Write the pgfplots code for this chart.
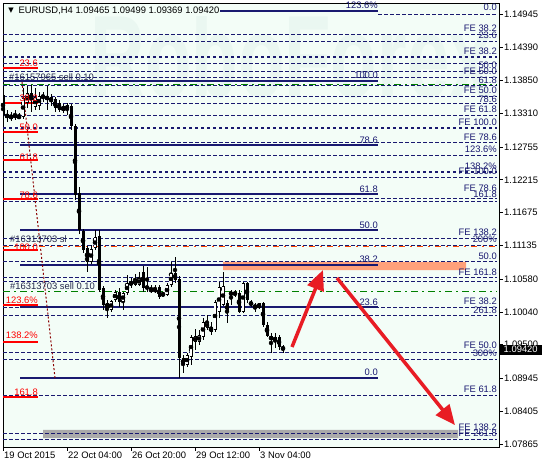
\documentclass[border=0pt]{standalone}
\usepackage{fontspec}
\setmainfont{Liberation Sans}
\newfontfamily\dejavu{DejaVu Sans}
\usepackage{pgfplots}
\pgfplotsset{compat=1.18}
\usepackage{pgfplotstable}
\usetikzlibrary{arrows.meta}

\definecolor{bgc}{RGB}{243,253,247}
\definecolor{fibnavy}{RGB}{25,25,112}
\definecolor{ordgreen}{RGB}{0,128,0}
\definecolor{slred}{RGB}{255,69,0}
\definecolor{arrred}{RGB}{232,28,36}
\definecolor{salmon}{RGB}{255,160,122}
\definecolor{band}{RGB}{170,170,170}
\definecolor{wm}{RGB}{234,247,241}
\definecolor{ordtext}{RGB}{35,40,75}
\definecolor{darkred}{RGB}{139,0,0}

% EURUSD H4 candles: bar index, open, high, low, close
\pgfplotstableread{
i o h l c
0 1.13611 1.13644 1.13118 1.13282
1 1.13233 1.13365 1.13167 1.13299
2 1.13216 1.13332 1.13184 1.13282
3 1.13233 1.13365 1.13200 1.13299
4 1.13233 1.13315 1.13216 1.13266
5 1.13249 1.13727 1.13216 1.13562
6 1.13480 1.13760 1.13398 1.13644
7 1.13644 1.13776 1.13332 1.13529
8 1.13414 1.13727 1.13365 1.13578
9 1.13430 1.13661 1.13365 1.13595
10 1.13562 1.13661 1.13496 1.13611
11 1.13595 1.13760 1.13365 1.13529
12 1.13578 1.13628 1.13430 1.13496
13 1.13545 1.13578 1.13332 1.13398
14 1.13480 1.13529 1.13332 1.13365
15 1.13348 1.13463 1.13315 1.13430
16 1.13365 1.13480 1.13282 1.13447
17 1.13430 1.13463 1.13035 1.13101
18 1.13101 1.13134 1.11883 1.11965
19 1.11998 1.12097 1.11323 1.11389
20 1.11372 1.11405 1.11010 1.11059
21 1.11092 1.11125 1.10697 1.10862
22 1.10862 1.11142 1.10829 1.11076
23 1.11092 1.11389 1.11059 1.11273
24 1.11290 1.11389 1.10368 1.10401
25 1.10434 1.10467 1.10072 1.10154
26 1.10105 1.10237 1.09940 1.10187
27 1.10072 1.10237 1.10039 1.10220
28 1.10237 1.10401 1.10204 1.10368
29 1.10368 1.10434 1.10121 1.10204
30 1.10204 1.10368 1.10072 1.10352
31 1.10352 1.10648 1.10319 1.10517
32 1.10517 1.10599 1.10434 1.10500
33 1.10484 1.10665 1.10467 1.10582
34 1.10484 1.10697 1.10467 1.10599
35 1.10697 1.10796 1.10368 1.10434
36 1.10434 1.10780 1.10368 1.10451
37 1.10434 1.10484 1.10352 1.10368
38 1.10368 1.10484 1.10352 1.10434
39 1.10451 1.10484 1.10253 1.10286
40 1.10335 1.10368 1.10302 1.10319
41 1.10319 1.10517 1.10302 1.10484
42 1.10484 1.10862 1.10451 1.10681
43 1.10681 1.10945 1.10517 1.10566
44 1.10582 1.10632 1.08952 1.09282
45 1.09282 1.09331 1.09035 1.09167
46 1.09167 1.09364 1.09134 1.09331
47 1.09298 1.09660 1.09167 1.09627
48 1.09545 1.09759 1.09413 1.09644
49 1.09545 1.09743 1.09496 1.09660
50 1.09627 1.09940 1.09578 1.09874
51 1.09776 1.09990 1.09743 1.09874
52 1.09792 1.09874 1.09660 1.09710
53 1.09743 1.10237 1.09710 1.10204
54 1.10039 1.10533 1.09940 1.10451
55 1.10154 1.10697 1.10138 1.10467
56 1.10187 1.10237 1.09858 1.10039
57 1.10352 1.10401 1.10154 1.10335
58 1.10335 1.10401 1.10286 1.10352
59 1.10352 1.10401 1.10023 1.10039
60 1.10039 1.10533 1.10023 1.10517
61 1.10517 1.10533 1.10187 1.10237
62 1.10204 1.10237 1.10121 1.10154
63 1.10154 1.10187 1.10039 1.10105
64 1.10105 1.10187 1.10088 1.10187
65 1.10187 1.10204 1.09792 1.09825
66 1.09825 1.09874 1.09627 1.09644
67 1.09644 1.09693 1.09364 1.09578
68 1.09562 1.09693 1.09446 1.09627
69 1.09627 1.09660 1.09413 1.09465
70 1.09465 1.09499 1.09369 1.09420
}\candles

\tikzset{
  dsh/.style={fibnavy, line width=0.8bp, dash pattern=on 3.5bp off 2.5bp},
  dotb/.style={fibnavy, line width=2bp, dash pattern=on 2.5bp off 3.5bp},
  sol/.style={fibnavy, line width=2bp},
  rlbl/.style={anchor=east, inner sep=0pt, text=fibnavy},
  redlbl/.style={anchor=east, inner sep=0pt, text=red},
  ordlbl/.style={anchor=west, inner sep=0pt, text=ordtext},
}

\begin{document}
\begin{tikzpicture}[font=\fontsize{9.4bp}{11bp}\selectfont]
\begin{axis}[
  scale only axis, width=496bp, height=444bp,
  at={(3bp,18bp)}, anchor=south west,
  xmin=0, xmax=124, ymin=1.07816, ymax=1.15126,
  axis background/.style={fill=bgc},
  axis line style={black, line width=0.8bp},
  tick style={black, line width=0.8bp},
  tick align=outside, major tick length=3.5bp,
  xtick pos=left, ytick pos=right, yticklabel pos=right,
  xtick={0,16,32,48,64},
  xticklabels={19 Oct 2015, 22 Oct 04:00, 26 Oct 20:00, 29 Oct 12:00, 3 Nov 04:00},
  xticklabel style={anchor=north west, inner sep=1bp},
  ytick={1.07865,1.08405,1.08945,1.09500,1.10040,1.10580,1.11135,1.11675,1.12215,1.12755,1.13310,1.13850,1.14390,1.14945},
  yticklabels={1.07865,1.08405,1.08945,1.09500,1.10040,1.10580,1.11135,1.11675,1.12215,1.12755,1.13310,1.13850,1.14390,1.14945},
  yticklabel style={anchor=west, inner sep=1.5bp},
  tick label style={font=\fontsize{9.4bp}{11bp}\selectfont},
  clip mode=individual,
]
% faint watermark
\node[anchor=base west, inner sep=0pt, text=wm, font=\fontsize{117bp}{117bp}\selectfont\bfseries] at (axis cs:21.75,1.13578) {\scalebox{0.65}[1]{RoboForex}};

% target zones
\addplot[fill=salmon, draw=none, forget plot] coordinates {(55,1.10862) (115.75,1.10862) (115.75,1.10730) (55,1.10730) (55,1.10862)};
\addplot[fill=band, draw=none, forget plot] coordinates {(10,1.08096) (113.75,1.08096) (113.75,1.07964) (10,1.07964) (10,1.08096)};

% dashed fibo / expansion levels
\addplot[dsh, forget plot] coordinates {(93.75,1.14945) (123.5,1.14945)};
\pgfplotsinvokeforeach{1.14616,1.14500,1.14138,1.14006,1.13908,1.13776,1.13595,1.13480,1.13282,1.12838,1.12623,1.12261,1.11915,1.11866,1.11257,1.11142,1.10878,1.10615,1.10549,1.10121,1.09989,1.09380,1.09265,1.08672,1.08046,1.07947}{
  \addplot[dsh, forget plot] coordinates {(0,#1) (123.5,#1)};
}
\pgfplotsinvokeforeach{1.14237,1.13068,1.12344}{
  \addplot[dotb, forget plot] coordinates {(0,#1) (123.5,#1)};
}

% main retracement (solid)
\addplot[sol, forget plot] coordinates {(4.25,1.14994) (93.75,1.14994)};
\addplot[sol, forget plot] coordinates {(0,1.13842) (93.75,1.13842)};
\pgfplotsinvokeforeach{1.12788,1.11981,1.11389,1.10812,1.10121,1.08952}{
  \addplot[sol, forget plot] coordinates {(4.25,#1) (93.75,#1)};
}

% red retracement on the left
\pgfplotsinvokeforeach{1.14056,1.13480,1.13002,1.12541,1.11899,1.11059,1.10154,1.09545,1.08639}{
  \addplot[red, line width=1.2bp, forget plot] coordinates {(0,#1) (8.75,#1)};
}
\addplot[darkred, line width=1bp, dash pattern=on 2bp off 2bp, forget plot] coordinates {(4.75,1.13826) (13,1.08952)};

% order lines
\addplot[ordgreen, line width=1bp, dash pattern=on 7bp off 4bp on 2bp off 4bp, forget plot] coordinates {(0,1.13792) (123.5,1.13792)};
\addplot[ordgreen, line width=1bp, dash pattern=on 7bp off 4bp on 2bp off 4bp, forget plot] coordinates {(0,1.10368) (123.5,1.10368)};
\addplot[slred, line width=1bp, dash pattern=on 6bp off 5bp on 2bp off 5bp, forget plot] coordinates {(0,1.11125) (123.5,1.11125)};

% candles: wicks, bodies, white inside of rising bars
\addplot[only marks, mark=none, forget plot, error bars/.cd, y dir=both, y explicit, error mark=none,
  error bar style={draw=black, line width=0.9bp}]
  table[x=i, y expr={(\thisrow{h}+\thisrow{l})/2}, y error expr={(\thisrow{h}-\thisrow{l})/2}] {\candles};
\addplot[only marks, mark=none, forget plot, error bars/.cd, y dir=both, y explicit, error mark=none,
  error bar style={draw=black, line width=3bp}]
  table[x=i, y expr={(\thisrow{o}+\thisrow{c})/2}, y error expr={max(abs(\thisrow{o}-\thisrow{c})/2,0.00008)}] {\candles};
\addplot[only marks, mark=none, forget plot, error bars/.cd, y dir=both, y explicit, error mark=none,
  error bar style={draw=white, line width=1.2bp}]
  table[x=i, y expr={(\thisrow{o}+\thisrow{c})/2}, y error expr={max((\thisrow{c}-\thisrow{o})/2-0.00013,0)}] {\candles};

% labels of the dashed levels (right)
\node[rlbl] at (axis cs:123.5,1.15060) {0.0};
\node[rlbl] at (axis cs:123.5,1.14714) {FE 38.2};
\node[rlbl] at (axis cs:123.5,1.14599) {23.6};
\node[rlbl] at (axis cs:123.5,1.14336) {FE 38.2};
\node[rlbl] at (axis cs:123.5,1.14105) {50.0};
\node[rlbl] at (axis cs:123.5,1.14006) {FE 50.0};
\node[rlbl] at (axis cs:123.5,1.13858) {61.8};
\node[rlbl] at (axis cs:123.5,1.13694) {FE 50.0};
\node[rlbl] at (axis cs:123.5,1.13545) {78.6};
\node[rlbl] at (axis cs:123.5,1.13381) {FE 61.8};
\node[rlbl] at (axis cs:123.5,1.13167) {FE 100.0};
\node[rlbl] at (axis cs:123.5,1.12920) {FE 78.6};
\node[rlbl] at (axis cs:123.5,1.12722) {123.6\%};
\node[rlbl] at (axis cs:123.5,1.12360) {FE 100.0};
\node[rlbl] at (axis cs:123.5,1.12442) {138.2\%};
\node[rlbl] at (axis cs:123.5,1.12080) {FE 78.6};
\node[rlbl] at (axis cs:123.5,1.11981) {161.8};
\node[rlbl] at (axis cs:123.5,1.11356) {FE 138.2};
\node[rlbl] at (axis cs:123.5,1.11240) {200\%};
\node[rlbl] at (axis cs:123.5,1.10961) {50.0};
\node[rlbl] at (axis cs:123.5,1.10697) {FE 161.8};
\node[rlbl] at (axis cs:123.5,1.10220) {FE 38.2};
\node[rlbl] at (axis cs:123.5,1.10071) {261.8};
\node[rlbl] at (axis cs:123.5,1.09495) {FE 50.0};
\node[rlbl] at (axis cs:123.5,1.09363) {300\%};
\node[rlbl] at (axis cs:123.5,1.08771) {FE 61.8};
\node[rlbl] at (axis cs:123.5,1.08145) {FE 138.2};
\node[rlbl] at (axis cs:123.5,1.08046) {FE 261.8};

% labels of the solid retracement
\node[rlbl] at (axis cs:93.75,1.15085) {123.6\%};
\node[rlbl] at (axis cs:93.75,1.13941) {100.0};
\node[rlbl] at (axis cs:93.75,1.12870) {78.6};
\node[rlbl] at (axis cs:93.75,1.12064) {61.8};
\node[rlbl] at (axis cs:93.75,1.11471) {50.0};
\node[rlbl] at (axis cs:93.75,1.10911) {38.2};
\node[rlbl] at (axis cs:93.75,1.10203) {23.6};
\node[rlbl] at (axis cs:93.75,1.09051) {0.0};

% labels of the red retracement
\node[redlbl] at (axis cs:8.75,1.14138) {23.6};
\node[redlbl] at (axis cs:8.75,1.13562) {38.2};
\node[redlbl] at (axis cs:8.75,1.13085) {50.0};
\node[redlbl] at (axis cs:8.75,1.12590) {61.8};
\node[redlbl] at (axis cs:8.75,1.11965) {78.6};
\node[redlbl] at (axis cs:8.75,1.11109) {100.0};
\node[redlbl] at (axis cs:8.75,1.10236) {123.6\%};
\node[redlbl] at (axis cs:8.75,1.09660) {138.2\%};
\node[redlbl] at (axis cs:8.75,1.08722) {161.8};

% order labels
\node[ordlbl] at (axis cs:1.5,1.13907) {\#16157965 sell 0.10};
\node[ordlbl] at (axis cs:1.75,1.11240) {\#16313703 sl};
\node[ordlbl] at (axis cs:1.75,1.10467) {\#16313703 sell 0.10};

% forecast arrows
\addplot[arrred, line width=3.5bp, -{Triangle[length=20bp,width=17bp]}, forget plot] coordinates {(72.25,1.09463) (80,1.10730)};
\addplot[arrred, line width=3.5bp, -{Triangle[length=20bp,width=17bp]}, forget plot] coordinates {(83.5,1.10599) (113,1.08176)};

% header
\node[anchor=west, inner sep=0pt] at (axis cs:1.3,1.14994) {\dejavu\fontsize{7bp}{7bp}\selectfont ▼};
\node[anchor=west, fill=bgc, inner sep=1bp, text=black] at (axis cs:3.6,1.14994) {EURUSD,H4 1.09465 1.09499 1.09369 1.09420};

% current price
\node[anchor=west, fill=black, text=white, inner xsep=2bp, inner ysep=0pt, minimum height=10bp, minimum width=43bp] at (axis cs:124,1.09420) {1.09420};
\end{axis}
\pgfresetboundingbox
\useasboundingbox (0,0) rectangle (542bp,465bp);
\end{tikzpicture}
\end{document}
